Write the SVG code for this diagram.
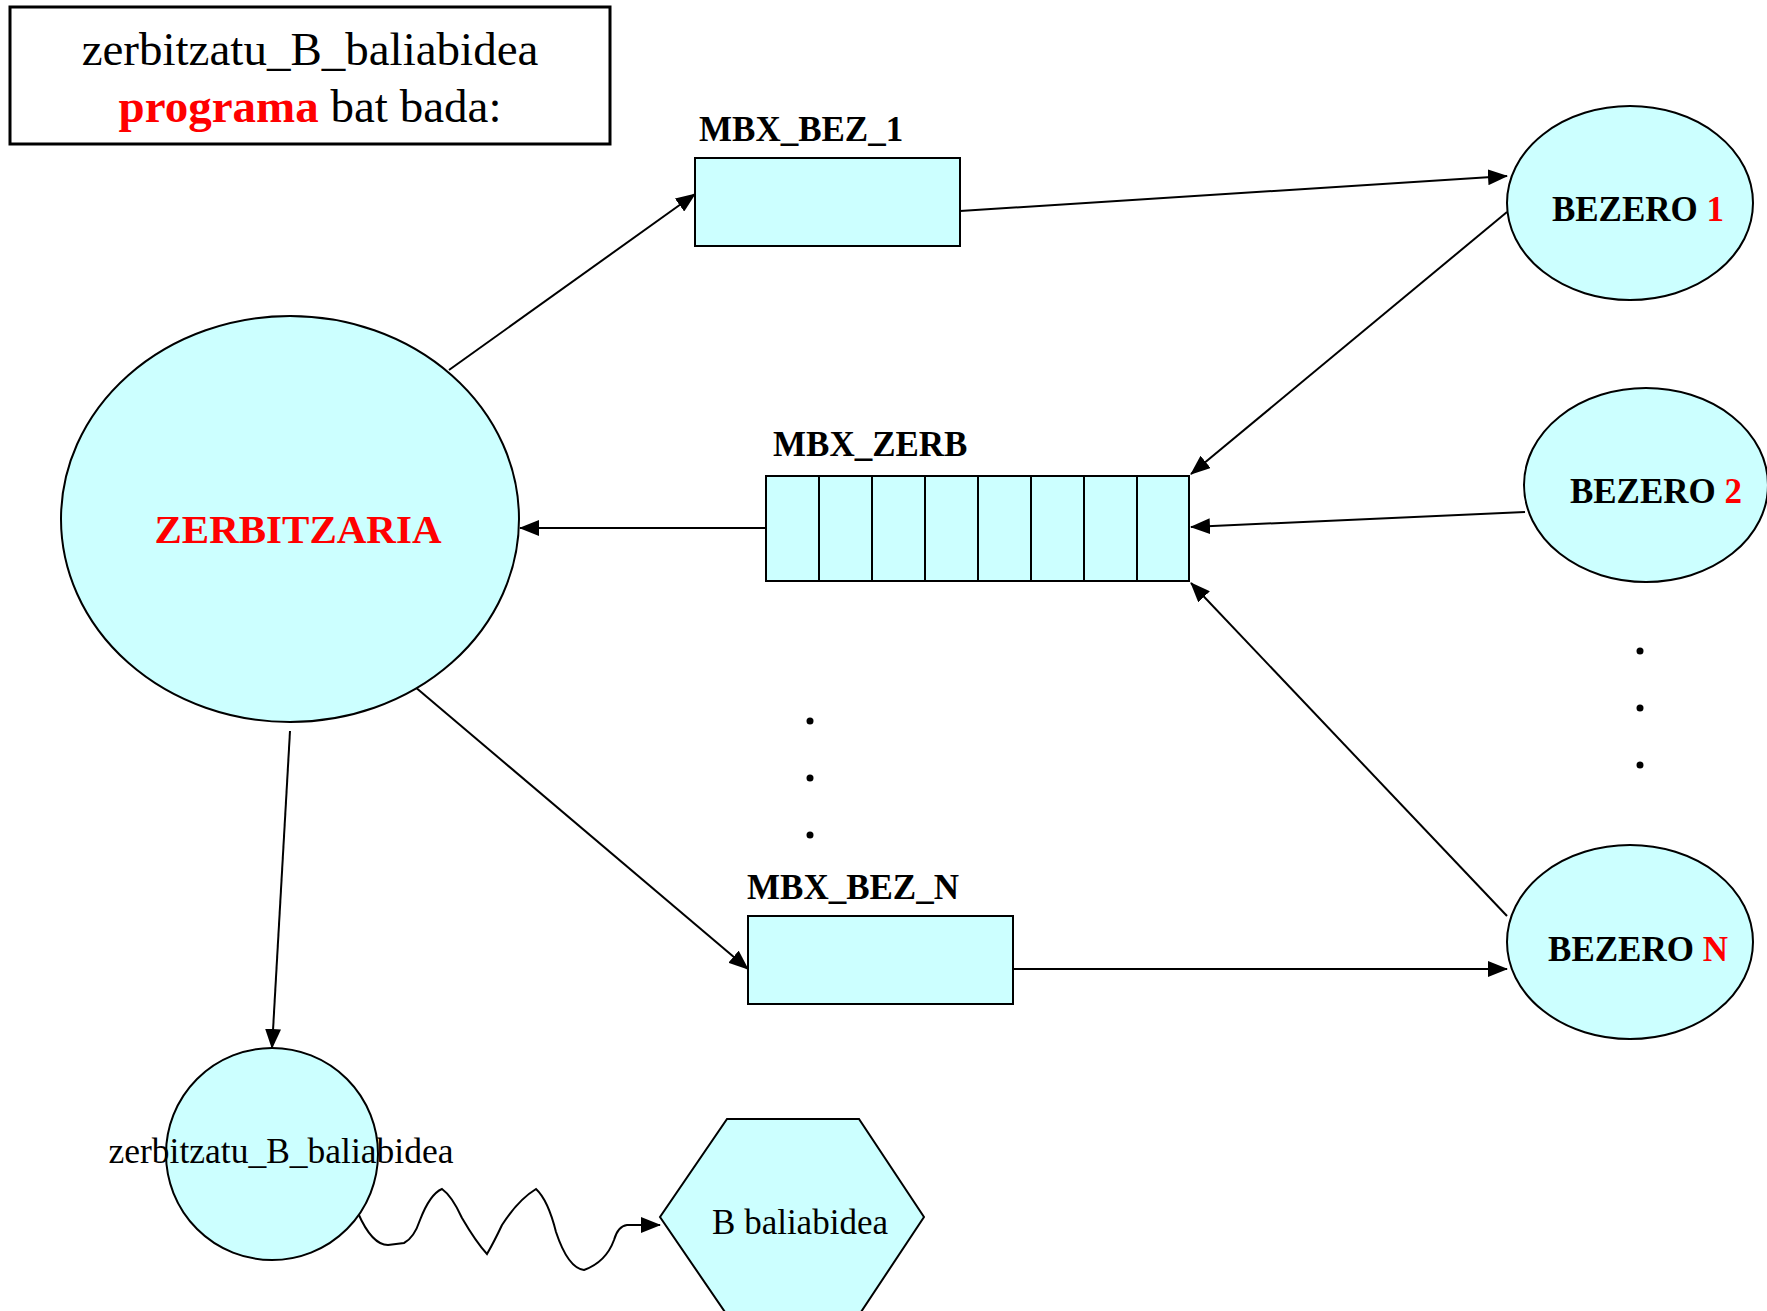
<svg xmlns="http://www.w3.org/2000/svg" width="1767" height="1311" viewBox="0 0 1767 1311">
<style>
.n{fill:#CCFFFF;stroke:#000;stroke-width:2}
.c{fill:none;stroke:#000;stroke-width:2}
text{font-family:"Liberation Serif","Times New Roman",serif;fill:#000}
.b{font-weight:bold}
.r{fill:#FF0000}
.dot{fill:#000}
</style>
<defs>
<marker id="ah" markerUnits="userSpaceOnUse" markerWidth="20" markerHeight="16" refX="19" refY="8" orient="auto">
<path d="M0,0 L20,8 L0,16 Z" fill="#000"/>
</marker>
</defs>
<rect width="1767" height="1311" fill="#fff"/>
<g id="title">
<rect x="10" y="7" width="600" height="137" fill="#fff" stroke="#000" stroke-width="3"/>
<text x="310" y="65" font-size="47" text-anchor="middle">zerbitzatu_B_baliabidea</text>
<text x="310" y="122" font-size="47" text-anchor="middle"><tspan class="b r">programa</tspan> bat bada:</text>
</g>
<g id="connectors">
<line class="c" x1="449" y1="370" x2="695" y2="194" marker-end="url(#ah)"/>
<line class="c" x1="960" y1="211" x2="1507" y2="176" marker-end="url(#ah)"/>
<line class="c" x1="1507" y1="212" x2="1191" y2="474" marker-end="url(#ah)"/>
<line class="c" x1="1525" y1="512" x2="1191" y2="527" marker-end="url(#ah)"/>
<line class="c" x1="1507" y1="916" x2="1191" y2="583" marker-end="url(#ah)"/>
<line class="c" x1="766" y1="528" x2="520" y2="528" marker-end="url(#ah)"/>
<line class="c" x1="414" y1="686" x2="748" y2="969" marker-end="url(#ah)"/>
<line class="c" x1="1013" y1="969" x2="1507" y2="969" marker-end="url(#ah)"/>
<line class="c" x1="290" y1="731" x2="272" y2="1048" marker-end="url(#ah)"/>
<path class="c" d="M358,1213 Q372,1245 388,1245 L404,1243 Q414,1238 420,1220 Q430,1194 442,1189 Q452,1196 462,1218 Q476,1242 487,1254 Q494,1242 502,1225 Q518,1200 536,1189 Q548,1200 556,1232 Q568,1268 584,1270 Q606,1262 614,1240 Q618,1226 627,1225 L660,1225" marker-end="url(#ah)"/>
</g>
<g id="zerbitzaria">
<ellipse class="n" cx="290" cy="519" rx="229" ry="203"/>
<text class="b r" x="298" y="543" font-size="41" text-anchor="middle">ZERBITZARIA</text>
</g>
<g id="mbx_bez_1">
<rect class="n" x="695" y="158" width="265" height="88"/>
<text class="b" x="699" y="141" font-size="35">MBX_BEZ_1</text>
</g>
<g id="mbx_zerb">
<rect class="n" x="766" y="476" width="423" height="105"/>
<path class="c" d="M819,476V581M872,476V581M925,476V581M978,476V581M1031,476V581M1084,476V581M1137,476V581"/>
<text class="b" x="773" y="456" font-size="35">MBX_ZERB</text>
</g>
<g id="mbx_bez_n">
<rect class="n" x="748" y="916" width="265" height="88"/>
<text class="b" x="747" y="899" font-size="35">MBX_BEZ_N</text>
</g>
<g id="bezero1">
<ellipse class="n" cx="1630" cy="203" rx="123" ry="97"/>
<text class="b" x="1638" y="221" font-size="35" text-anchor="middle">BEZERO <tspan class="r">1</tspan></text>
</g>
<g id="bezero2">
<ellipse class="n" cx="1646" cy="485" rx="122" ry="97"/>
<text class="b" x="1656" y="503" font-size="35" text-anchor="middle">BEZERO <tspan class="r">2</tspan></text>
</g>
<g id="bezeroN">
<ellipse class="n" cx="1630" cy="942" rx="123" ry="97"/>
<text class="b" x="1638" y="961" font-size="35" text-anchor="middle">BEZERO <tspan class="r">N</tspan></text>
</g>
<g id="dots">
<circle class="dot" cx="810" cy="721" r="3.5"/>
<circle class="dot" cx="810" cy="778" r="3.5"/>
<circle class="dot" cx="810" cy="835" r="3.5"/>
<circle class="dot" cx="1640" cy="651" r="3.5"/>
<circle class="dot" cx="1640" cy="708" r="3.5"/>
<circle class="dot" cx="1640" cy="765" r="3.5"/>
</g>
<g id="zerbitzatu">
<ellipse class="n" cx="272" cy="1154" rx="106" ry="106"/>
<text x="281" y="1163" font-size="35.5" text-anchor="middle">zerbitzatu_B_baliabidea</text>
</g>
<g id="baliabidea">
<polygon class="n" points="727,1119 859,1119 924,1217 859,1315 727,1315 660,1217"/>
<text x="800" y="1234" font-size="35" text-anchor="middle">B baliabidea</text>
</g>
</svg>
